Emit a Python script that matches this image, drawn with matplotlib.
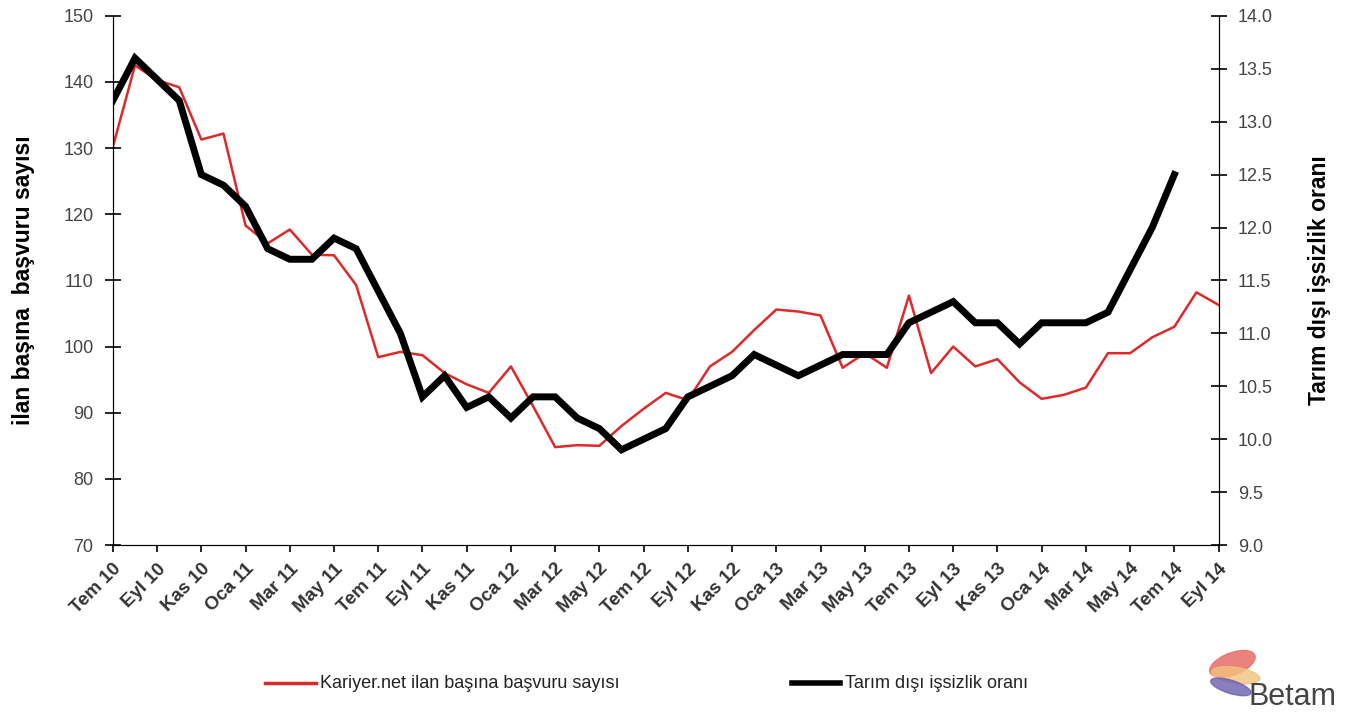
import numpy as np
import matplotlib
matplotlib.use("Agg")
import matplotlib.pyplot as plt
from matplotlib.patches import Ellipse

plt.rcParams['font.family'] = ['Liberation Sans', 'DejaVu Sans']

# monthly, Tem 10 .. Eyl 14
months = ["Tem", "Ağu", "Eyl", "Eki", "Kas", "Ara", "Oca", "Şub", "Mar", "Nis", "May", "Haz"]
labels = []
for i in range(51):
    yr = 10 + (6 + i) // 12
    labels.append("%s %d" % (months[i % 12], yr))

kariyer = [130.2, 142.5, 140.3, 139.2, 131.3, 132.2, 118.3, 115.6, 117.7, 113.9,
           113.8, 109.3, 98.4, 99.2, 98.7, 96.0, 94.3, 93.0, 97.0, 91.0,
           84.8, 85.1, 85.0, 88.0, 90.6, 93.0, 91.9, 97.0, 99.2, 102.5,
           105.6, 105.3, 104.7, 96.8, 99.0, 96.8, 107.7, 96.0, 100.0, 97.0,
           98.1, 94.6, 92.1, 92.7, 93.8, 99.0, 99.0, 101.4, 103.0, 108.2,
           106.3]

issizlik = [13.2, 13.6, 13.4, 13.2, 12.5, 12.4, 12.2, 11.8, 11.7, 11.7,
            11.9, 11.8, 11.4, 11.0, 10.4, 10.6, 10.3, 10.4, 10.2, 10.4,
            10.4, 10.2, 10.1, 9.9, 10.0, 10.1, 10.4, 10.5, 10.6, 10.8,
            10.7, 10.6, 10.7, 10.8, 10.8, 10.8, 11.1, 11.2, 11.3, 11.1,
            11.1, 10.9, 11.1, 11.1, 11.1, 11.2, 11.6, 12.0, 12.5]

fig = plt.figure(figsize=(13.6, 7.2), dpi=100)
ax = fig.add_axes([0.083, 0.243, 0.813, 0.735])
ax2 = ax.twinx()

ax.plot(range(len(kariyer)), kariyer, color='#dc2a2a', lw=1.8, zorder=2)
ax2.plot(range(len(issizlik)), issizlik, color='black', lw=5, solid_joinstyle='miter', zorder=3)

ax.set_xlim(0, 50)
ax.set_ylim(70, 150)
ax2.set_ylim(9, 14)
ax.set_yticks(range(70, 151, 10))
ax2.set_yticks(np.arange(9, 14.01, 0.5))
ax2.set_yticklabels(["%.1f" % v for v in np.arange(9, 14.01, 0.5)])
ax.set_xticks(range(0, 51, 2))
ax.set_xticklabels(labels[::2], rotation=45, ha='right', rotation_mode='anchor',
                   fontweight='bold', fontsize=13.5, color='#333333')

for a in (ax, ax2):
    a.spines['top'].set_visible(False)
    a.patch.set_visible(False)
ax.tick_params(axis='y', direction='inout', length=12, width=1.2, labelsize=13,
               labelcolor='#444444', pad=8)
ax2.tick_params(axis='y', direction='inout', length=12, width=1.2, labelsize=13,
                labelcolor='#444444', pad=8)
ax.tick_params(axis='x', direction='out', length=5, width=1.2, pad=6)

ax.set_ylabel("ilan başına  başvuru sayısı", fontsize=16.5, fontweight='bold', labelpad=20)
ax2.set_ylabel("Tarım dışı işsizlik oranı", fontsize=16.5, fontweight='bold',
               rotation=90, labelpad=25)

# legend
fig.lines.append(plt.Line2D([0.195, 0.232], [0.051, 0.051], transform=fig.transFigure,
                            color='#dc2a2a', lw=2.5))
fig.text(0.235, 0.051, "Kariyer.net ilan başına başvuru sayısı", fontsize=13,
         va='center', color='#222222')
fig.lines.append(plt.Line2D([0.582, 0.618], [0.051, 0.051], transform=fig.transFigure,
                            color='black', lw=4))
fig.text(0.621, 0.051, "Tarım dışı işsizlik oranı", fontsize=13,
         va='center', color='#222222')

# Betam mark
lax = fig.add_axes([0.875, 0.0, 0.12, 0.12])
lax.set_xlim(0, 10)
lax.set_ylim(0, 6)
lax.axis('off')
lax.add_patch(Ellipse((2.6, 3.9), 3.0, 1.5, angle=25, color='#e8766f', alpha=0.9))
lax.add_patch(Ellipse((2.8, 3.1), 3.0, 1.1, angle=-10, color='#f1c27d', alpha=0.8))
lax.add_patch(Ellipse((2.5, 2.3), 2.6, 0.9, angle=-20, color='#6a5fb0', alpha=0.8))
lax.text(3.6, 1.6, "Betam", fontsize=22, color='#444444', va='center')

fig.savefig("out.png", dpi=100)
